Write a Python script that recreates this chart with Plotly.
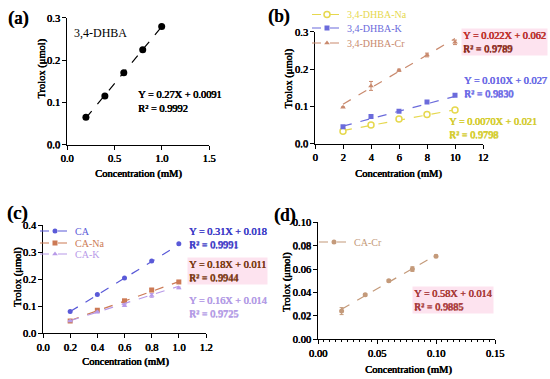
import plotly.graph_objects as go

W, H = 550, 379
SERIF = "Liberation Serif"

# ---------------- data ----------------
xa = [0.2, 0.4, 0.6, 0.8, 1.0]
ya_dhba = [0.065, 0.115, 0.17, 0.225, 0.28]
fit_a = (0.27, 0.0091)

xb = [2, 4, 6, 8, 10]
yb_na = [0.033, 0.05, 0.066, 0.078, 0.09]
yb_k = [0.045, 0.073, 0.087, 0.112, 0.13]
yb_cr = [0.098, 0.155, 0.197, 0.238, 0.272]
eb_cr = [0.0, 0.012, 0.003, 0.005, 0.006]
fit_b_na = (0.0070, 0.021)
fit_b_k = (0.010, 0.027)
fit_b_cr = (0.022, 0.062)

xc = [0.2, 0.4, 0.6, 0.8, 1.0]
yc_ca = [0.08, 0.143, 0.205, 0.268, 0.332]
yc_na = [0.045, 0.085, 0.12, 0.16, 0.19]
yc_k = [0.045, 0.078, 0.103, 0.14, 0.168]
ec_na = [0.003, 0.004, 0.005, 0.006, 0.004]
ec_k = [0.002, 0.003, 0.004, 0.007, 0.003]
fit_c_ca = (0.31, 0.018)
fit_c_na = (0.18, 0.011)
fit_c_k = (0.16, 0.014)

xd = [0.02, 0.04, 0.06, 0.08, 0.10]
yd_cr = [0.024, 0.038, 0.05, 0.06, 0.071]
ed_cr = [0.003, 0.001, 0.001, 0.002, 0.001]
fit_d = (0.58, 0.014)

fig = go.Figure()


def px2x(p):
    return p / W


def px2y(p):
    return 1 - p / H


def bfont(size, color, strength=0.55):
    # faux-bold serif (bold face of the serif family is not installed)
    return dict(family=SERIF, size=size, color=color,
                shadow=f"{strength}px 0 0 {color}, {strength / 2}px 0.2px 0 {color}")


panels = {
    "a": ("x", "y", (67, 209), (17, 144), [0, 1.5], [0, 0.3], 0.5, 0.1, ".1f", ".1f"),
    "b": ("x2", "y2", (315, 483), (31, 143), [0, 12], [0, 0.3], 2, 0.1, "d", ".1f"),
    "c": ("x3", "y3", (43, 206), (225, 333), [0, 1.2], [0, 0.4], 0.2, 0.1, ".1f", ".1f"),
    "d": ("x4", "y4", (318, 495), (222, 339), [0, 0.15], [0, 0.10], 0.05, 0.02, ".2f", ".2f"),
}

layout_axes = {}
for i, (k, p) in enumerate(panels.items()):
    xa_, ya_, xd_, yd_, xr, yr, xdt, ydt, xf, yf = p
    n = "" if i == 0 else str(i + 1)
    common = dict(
        showgrid=False, zeroline=False, showline=True, linecolor="black", linewidth=1,
        ticks="outside", ticklen=4, tickwidth=1, tickcolor="black",
        tickfont=bfont(10.5, "black"), automargin=False,
    )
    xax = dict(common, domain=[px2x(xd_[0]), px2x(xd_[1])], range=xr, dtick=xdt, tick0=0,
               tickformat=xf, anchor=ya_)
    if k == "d":
        xax["minor"] = dict(ticks="outside", ticklen=2, dtick=0.005, tickcolor="black", tickwidth=1)
    yax = dict(common, domain=[px2y(yd_[1]), px2y(yd_[0])], range=yr, dtick=ydt, tick0=0,
               tickformat=yf, anchor=xa_)
    layout_axes["xaxis" + n] = xax
    layout_axes["yaxis" + n] = yax


def add_series(xs, ys, fit, color, symbol, xa_, ya_, name=None, legend=None, err=None,
               size=6, open_marker=False):
    m, b = fit
    lx = [xs[0], xs[-1]]
    ly = [m * v + b for v in lx]
    fig.add_trace(go.Scatter(x=lx, y=ly, mode="lines", xaxis=xa_, yaxis=ya_,
                             line=dict(color=color, width=1.2, dash="dash"), showlegend=False,
                             hoverinfo="skip"))
    mk = dict(color="white" if open_marker else color, symbol=symbol, size=size,
              line=dict(color=color, width=1.5 if open_marker else 0))
    tr = dict(x=xs, y=ys, mode="markers", xaxis=xa_, yaxis=ya_, marker=mk, showlegend=False)
    if err is not None:
        tr["error_y"] = dict(type="data", array=err, color=color, thickness=1, width=2)
    fig.add_trace(go.Scatter(**tr))
    if name:
        fig.add_trace(go.Scatter(x=[None], y=[None], mode="lines+markers", name=name,
                                 xaxis=xa_, yaxis=ya_, legend=legend,
                                 line=dict(color=color, width=1.2, dash="dash"), marker=mk))


C_NA, C_K, C_CR = "#e6d84e", "#6b6bdb", "#c98a6e"
C_CA, C_CANA, C_CAK, C_CACR = "#5a5ad8", "#cc7a55", "#b89ae8", "#c49a7a"

add_series(xa, ya_dhba, fit_a, "black", "circle", "x", "y", size=7)

add_series(xb, yb_na, fit_b_na, C_NA, "circle", "x2", "y2", "3,4-DHBA-Na", "legend", open_marker=True, size=6)
add_series(xb, yb_k, fit_b_k, C_K, "square", "x2", "y2", "3,4-DHBA-K", "legend2", size=5)
add_series(xb, yb_cr, fit_b_cr, C_CR, "triangle-up", "x2", "y2", "3,4-DHBA-Cr", "legend3", err=eb_cr, size=5)

add_series(xc, yc_ca, fit_c_ca, C_CA, "circle", "x3", "y3", "CA", "legend4", size=5)
add_series(xc, yc_na, fit_c_na, C_CANA, "square", "x3", "y3", "CA-Na", "legend5", err=ec_na, size=5)
add_series(xc, yc_k, fit_c_k, C_CAK, "triangle-up", "x3", "y3", "CA-K", "legend6", err=ec_k, size=5)

add_series(xd, yd_cr, fit_d, C_CACR, "circle", "x4", "y4", "CA-Cr", "legend7", err=ed_cr, size=5)

# legends: (legend left px, center y px)
leg_pos = {"legend": (307, 14, C_NA), "legend2": (307, 28, C_K), "legend3": (307, 43, C_CR),
           "legend4": (35, 231, C_CA), "legend5": (35, 243, C_CANA), "legend6": (35, 254, C_CAK),
           "legend7": (314, 242, C_CACR)}
for key, (lx, cy, col) in leg_pos.items():
    layout_axes[key] = dict(x=px2x(lx), y=px2y(cy), xanchor="left", yanchor="middle",
                            bgcolor="rgba(0,0,0,0)", borderwidth=0,
                            font=dict(family=SERIF, size=10, color=col),
                            tracegroupgap=0, itemwidth=30)

ann = []


def add_text(x, y, text, font, xanchor="left", angle=0, bg=None):
    ann.append(dict(x=px2x(x), y=px2y(y), xref="paper", yref="paper", xanchor=xanchor,
                    yanchor="middle", text=text, showarrow=False, align="left",
                    font=font, bgcolor=bg, borderpad=1, textangle=angle))


# axis titles
titles = {"a": ((138, 173), (42, 68)), "b": ((398, 173), (289, 78)),
          "c": ((125, 362), (18, 277)), "d": ((408, 370), (287, 282))}
for k, ((tx, ty), (yx, yy)) in titles.items():
    add_text(tx, ty, "Concentration (mM)", bfont(10.5, "black"), xanchor="center")
    add_text(yx, yy, "Trolox (μmol)", bfont(10.5, "black"), xanchor="center", angle=-90)

# panel labels
for lbl, (x, y) in [("(a)", (6, 18)), ("(b)", (266, 16)), ("(c)", (5, 213)), ("(d)", (272, 215))]:
    add_text(x, y, lbl, bfont(18, "black", 0.9))

add_text(72, 32, "3,4-DHBA", dict(family=SERIF, size=12, color="black"))
add_text(136, 101, "Y = 0.27X + 0.0091<br>R² = 0.9992", bfont(10.4, "black"))

PINK = "#fde3ef"
add_text(461, 41, "<span style='color:#d53030'>Y = 0.022X + 0.062</span><br>R² = 0.9789",
         bfont(10.3, "#8a2a1a"), bg=PINK)
add_text(462, 86, "Y = 0.010X + 0.027<br>R² = 0.9830", bfont(10.3, "#6a6ae6"))
add_text(447, 127, "Y = 0.0070X + 0.021<br>R² = 0.9798", bfont(10.3, "#d4cc2c"))

add_text(187, 238, "Y = 0.31X + 0.018<br>R² = 0.9991", bfont(10.3, "#3d3dc8"))
add_text(187, 271, "Y = 0.18X + 0.011<br>R² = 0.9944", bfont(10.3, "#7a3a12"), bg=PINK)
add_text(187, 307, "Y = 0.16X + 0.014<br>R² = 0.9725", bfont(10.3, "#b39be6"))

add_text(412, 300, "Y = 0.58X + 0.014<br>R² = 0.9885", bfont(10.3, "#a83a3a"), bg=PINK)

fig.update_layout(
    width=W, height=H, margin=dict(l=0, r=0, t=0, b=0),
    paper_bgcolor="white", plot_bgcolor="white",
    annotations=ann, **layout_axes,
)

fig.write_html("out.html", config={"displayModeBar": False},
               post_script="document.body.style.margin='0';")
